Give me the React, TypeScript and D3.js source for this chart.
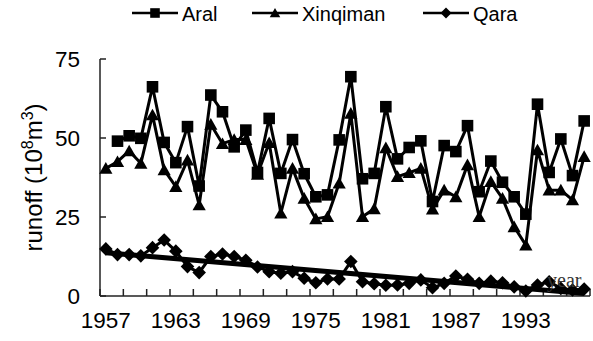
import React from 'react'
import * as d3 from 'd3'

const width = 593
const height = 341
const margin = { top: 59, left: 100, right: 3, bottom: 45 }

// years on the category axis
const years = d3.range(1957, 1999)
const tickLabels = ['1957', '1963', '1969', '1975', '1981', '1987', '1993']
const yTicks = [0, 25, 50, 75]

// runoff, 10^8 m3
const aral = [null, 49.0, 50.7, 49.9, 66.2, 48.6, 42.2, 53.6, 34.8, 63.6, 58.3,
  47.2, 52.5, 39.1, 56.2, 38.8, 49.5, 38.7, 31.4, 32.0, 49.4,
  69.4, 37.1, 38.8, 59.9, 43.4, 47.0, 49.1, 29.9, 47.6, 45.7,
  53.9, 33.0, 42.7, 36.0, 31.4, 25.9, 60.7, 39.1, 49.7, 38.1, 55.4]
const xinqiman = [40.4, 42.5, 45.9, 42.0, 57.3, 39.9, 34.6, 43.0, 28.8, 54.3, 48.2,
  49.5, 49.5, 38.5, 48.5, 26.2, 40.4, 30.9, 24.4, 25.1, 35.7,
  57.8, 25.1, 27.6, 46.9, 37.8, 39.0, 40.4, 27.5, 33.5, 31.4,
  41.5, 25.1, 36.2, 30.9, 21.9, 16.1, 46.2, 33.5, 33.5, 30.4, 44.1]
const qara = [14.9, 13.1, 13.1, 12.7, 15.3, 17.7, 14.2, 9.3, 7.4, 12.5, 13.3,
  12.5, 11.3, 9.2, 7.7, 7.2, 7.7, 5.6, 4.2, 5.4, 5.4,
  10.9, 4.5, 3.9, 3.4, 3.5, 4.0, 5.1, 2.6, 4.0, 6.3,
  5.3, 4.0, 4.7, 4.2, 2.9, 1.6, 3.5, 4.5, 2.4, 1.9, 2.2]

const x = d3.scaleBand<number>().domain(years).range([margin.left, width - margin.right]).padding(0)
const y = d3.scaleLinear().domain([0, 75]).range([height - margin.bottom, margin.top])
const cx = (i: number) => (x(years[i]) as number) + x.bandwidth() / 2

const square = (s: number) => `M${-s},${-s}H${s}V${s}H${-s}Z`
const triangle = (s: number) => `M0,${-s}L${s * 1.05},${s * 0.85}H${-s * 1.05}Z`
const diamond = (s: number) => `M0,${-s}L${s},0L0,${s}L${-s},0Z`

const series = [
  { name: 'Aral', values: aral, marker: square, size: 5.8, legendSize: 4.8, lx: 132 },
  { name: 'Xinqiman', values: xinqiman, marker: triangle, size: 6.3, legendSize: 5, lx: 252 },
  { name: 'Qara', values: qara, marker: diamond, size: 6.8, legendSize: 5.5, lx: 423 },
]

// linear trend for Qara
const n = qara.length
const mx = d3.mean(d3.range(n)) as number
const my = d3.mean(qara) as number
const slope = d3.sum(d3.range(n), i => (i - mx) * (qara[i] - my)) / d3.sum(d3.range(n), i => (i - mx) ** 2)
const intercept = my - slope * mx

const line = d3.line<number | null>()
  .defined(d => d !== null)
  .x((_, i) => cx(i))
  .y(d => y(d as number))

export default function App() {
  const x0 = margin.left
  const x1 = width - margin.right
  const y0 = height - margin.bottom
  const font = 'Liberation Sans, Arial, sans-serif'
  const xTickPos = d3.range(0, years.length + 1, 2).map(i =>
    i < years.length ? (x(years[i]) as number) : x1)
  return (
    <div style={{ position: 'absolute', left: 0, top: 0 }}>
      <svg width={width} height={height} style={{ display: 'block', background: '#fff' }}>
        {/* legend */}
        <g fontFamily={font} fontSize={20}>
          {series.map(s => (
            <g key={s.name}>
              <line x1={s.lx} x2={s.lx + 46} y1={13} y2={13} stroke="#000" strokeWidth={2.5} />
              <path d={s.marker(s.legendSize)} transform={`translate(${s.lx + 23},13)`} fill="#000" />
              <text x={s.lx + 50} y={21}>{s.name}</text>
            </g>
          ))}
        </g>

        {/* axes */}
        <g stroke="#222" strokeWidth={1.5}>
          <line x1={x0} x2={x0} y1={margin.top} y2={y0} />
          <line x1={x0} x2={x1} y1={y0} y2={y0} />
          {yTicks.map(t => <line key={t} x1={x0} x2={x0 + 6} y1={y(t)} y2={y(t)} />)}
          {xTickPos.map((p, i) => <line key={i} x1={p} x2={p} y1={y0} y2={y0 - 7} />)}
        </g>
        <g fontFamily={font} fontSize={22.5} fill="#000">
          {yTicks.map(t => (
            <text key={t} x={80} y={y(t)} dy=".36em" textAnchor="end">{t}</text>
          ))}
          {tickLabels.map(l => (
            <text key={l} x={cx(years.indexOf(+l))} y={328} textAnchor="middle">{l}</text>
          ))}
          <text transform={`translate(42,${(margin.top + y0) / 2}) rotate(-90)`} textAnchor="middle" fontSize={24}>
            runoff (10<tspan dy={-9} fontSize={16}>8</tspan><tspan dy={9}>m</tspan><tspan dy={-9} fontSize={16}>3</tspan><tspan dy={9}>)</tspan>
          </text>
        </g>

        {/* trend line */}
        <line x1={cx(0)} x2={cx(n - 1)} y1={y(intercept)} y2={y(intercept + slope * (n - 1))}
          stroke="#000" strokeWidth={5} />

        {/* series */}
        {series.map(s => (
          <g key={s.name}>
            <path d={line(s.values) as string} fill="none" stroke="#000" strokeWidth={3} strokeLinejoin="round" />
            {s.values.map((v, i) => v === null ? null : (
              <path key={i} d={s.marker(s.size)} transform={`translate(${cx(i)},${y(v)})`} fill="#000" />
            ))}
          </g>
        ))}

        <text x={547} y={287} fontFamily="Liberation Serif, Times New Roman, serif" fontSize={20} fill="#333">year</text>
      </svg>
    </div>
  )
}
